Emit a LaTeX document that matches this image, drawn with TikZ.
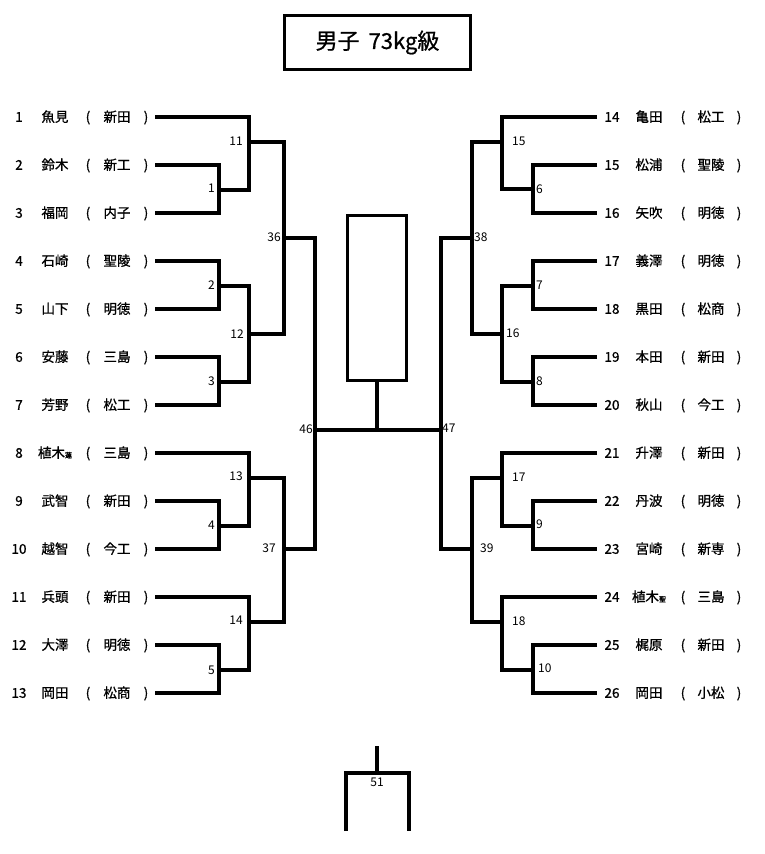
\documentclass[tikz,border=0pt]{standalone}
\usepackage{fontspec}
\setmainfont{Noto Sans CJK JP}[BoldFont=Noto Sans CJK JP, BoldFeatures={FakeBold=0.8}]
\begin{document}
\begin{tikzpicture}[x=1pt,y=-1pt,
  br/.style={line width=3.2pt, line join=miter},
  txt/.style={font=\fontsize{13.5}{13.5}\selectfont\bfseries, inner sep=0pt, anchor=base},
  lab/.style={font=\fontsize{12}{12}\selectfont, inner sep=0pt},
  labl/.style={lab, anchor=base east},
  labr/.style={lab, anchor=base west}]
\useasboundingbox (0,0) rectangle (764,854);

% title
\node[draw, line width=3.2pt, minimum width=186pt, minimum height=54pt, inner sep=0pt]
  (title) at (377.5,42.5) {\fontsize{22}{22}\selectfont\bfseries 男子\hspace{9pt}73kg級};

% left players
\foreach \i/\nm/\sc in {1/魚見/新田, 2/鈴木/新工, 3/福岡/内子, 4/石崎/聖陵, 5/山下/明徳,
  6/安藤/三島, 7/芳野/松工, 8/{植木{\fontsize{7}{7}\selectfont 蓮}}/三島, 9/武智/新田,
  10/越智/今工, 11/兵頭/新田, 12/大澤/明徳, 13/岡田/松商}{
  \pgfmathsetmacro\yy{117+48*(\i-1)}
  \pgfmathsetmacro\yb{\yy+4.8}
  \node[txt] (ln\i) at (19,\yb) {\i};
  \node[txt] (lnm\i) at (55,\yb) {\nm};
  \node[txt] (lo\i) at (88,\yb) {(};
  \node[txt] (ls\i) at (117,\yb) {\sc};
  \node[txt] (lc\i) at (146,\yb) {)};
  \coordinate (L\i) at (155,\yy);
}

% right players
\foreach \i/\nm/\sc in {14/亀田/松工, 15/松浦/聖陵, 16/矢吹/明徳, 17/義澤/明徳, 18/黒田/松商,
  19/本田/新田, 20/秋山/今工, 21/升澤/新田, 22/丹波/明徳, 23/宮崎/新専,
  24/{植木{\fontsize{7}{7}\selectfont 聖}}/三島, 25/梶原/新田, 26/岡田/小松}{
  \pgfmathsetmacro\yy{117+48*(\i-14)}
  \pgfmathsetmacro\yb{\yy+4.8}
  \node[txt] (rn\i) at (612,\yb) {\i};
  \node[txt] (rnm\i) at (649,\yb) {\nm};
  \node[txt] (ro\i) at (683,\yb) {(};
  \node[txt] (rs\i) at (711,\yb) {\sc};
  \node[txt] (rc\i) at (739,\yb) {)};
  \coordinate (R\i) at (597,\yy);
}

% left match points
\coordinate (m1) at (219,190);
\coordinate (m11) at (249,142);
\coordinate (m2) at (219,286);
\coordinate (m3) at (219,382);
\coordinate (m12) at (249,334);
\coordinate (m36) at (284,238);
\coordinate (m4) at (219,526);
\coordinate (m13) at (249,478);
\coordinate (m5) at (219,670);
\coordinate (m14) at (249,622);
\coordinate (m37) at (284,549);
\coordinate (m46) at (315,430);
% right match points
\coordinate (m6) at (533,189);
\coordinate (m15) at (502,142);
\coordinate (m7) at (533,286);
\coordinate (m8) at (533,382);
\coordinate (m16) at (502,334);
\coordinate (m38) at (472,238);
\coordinate (m9) at (533,526);
\coordinate (m17) at (502,478);
\coordinate (m10) at (533,670);
\coordinate (m18) at (502,622);
\coordinate (m39) at (472,549);
\coordinate (m47) at (441,430);
\coordinate (fin) at (377,430);

% brackets left
\draw[br] (L2) -| (m1) |- (L3);
\draw[br] (L1) -| (m11) |- (m1);
\draw[br] (L4) -| (m2) |- (L5);
\draw[br] (L6) -| (m3) |- (L7);
\draw[br] (m2) -| (m12) |- (m3);
\draw[br] (m11) -| (m36) |- (m12);
\draw[br] (L9) -| (m4) |- (L10);
\draw[br] (L8) -| (m13) |- (m4);
\draw[br] (L12) -| (m5) |- (L13);
\draw[br] (L11) -| (m14) |- (m5);
\draw[br] (m13) -| (m37) |- (m14);
\draw[br] (m36) -| (m46) |- (m37);
% brackets right
\draw[br] (R15) -| (m6) |- (R16);
\draw[br] (R14) -| (m15) |- (m6);
\draw[br] (R17) -| (m7) |- (R18);
\draw[br] (R19) -| (m8) |- (R20);
\draw[br] (m7) -| (m16) |- (m8);
\draw[br] (m15) -| (m38) |- (m16);
\draw[br] (R22) -| (m9) |- (R23);
\draw[br] (R21) -| (m17) |- (m9);
\draw[br] (R25) -| (m10) |- (R26);
\draw[br] (R24) -| (m18) |- (m10);
\draw[br] (m17) -| (m39) |- (m18);
\draw[br] (m38) -| (m47) |- (m39);
% final
\draw[br] (m46) -- (m47);
\node[draw, line width=3.2pt, minimum width=59pt, minimum height=165pt, inner sep=0pt]
  (final) at (377,298) {};
\draw[br] (final.south) -- (fin);

% match labels left
\node[labl] (t1) at (215,192) {1};
\node[labl] (t11) at (243,145) {11};
\node[labl] (t2) at (215,289) {2};
\node[labl] (t3) at (215,385) {3};
\node[labl] (t12) at (244,338) {12};
\node[labl] (t36) at (281,241) {36};
\node[labl] (t4) at (215,529) {4};
\node[labl] (t13) at (243,480) {13};
\node[labl] (t5) at (215,674) {5};
\node[labl] (t14) at (243,624) {14};
\node[labl] (t37) at (276,552) {37};
\node[labl] (t46) at (313,433) {46};
% match labels right
\node[labr] (t15) at (512,145) {15};
\node[labr] (t6) at (536,193) {6};
\node[labr] (t7) at (536,289) {7};
\node[labr] (t8) at (536,385) {8};
\node[labr] (t16) at (506,337) {16};
\node[labr] (t38) at (474,241) {38};
\node[labr] (t17) at (512,481) {17};
\node[labr] (t9) at (536,528) {9};
\node[labr] (t18) at (512,625) {18};
\node[labr] (t10) at (538,672) {10};
\node[labr] (t39) at (480,552) {39};
\node[labr] (t47) at (442,432) {47};

% bottom match 51
\coordinate (s51) at (377,746);
\coordinate (m51) at (377,773);
\coordinate (a51) at (346,831);
\coordinate (b51) at (409,831);
\draw[br] (s51) -- (m51);
\draw[br] (a51) |- (b51 |- m51) -- (b51);
\node[lab, anchor=base] (t51) at (377,786) {51};
\end{tikzpicture}
\end{document}
